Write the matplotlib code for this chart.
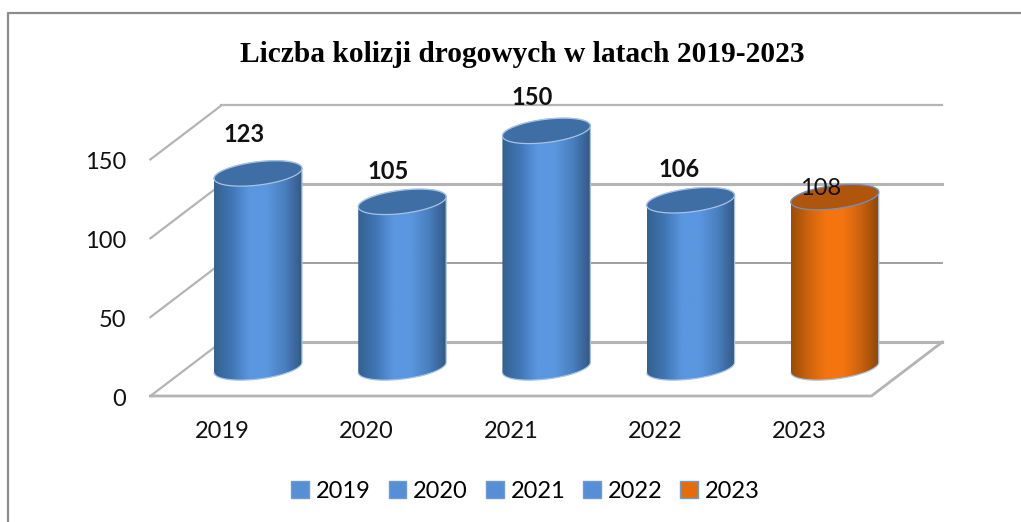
import numpy as np
import matplotlib
matplotlib.use("Agg")
import matplotlib.pyplot as plt
from matplotlib.colors import LinearSegmentedColormap
from matplotlib.patches import PathPatch, Rectangle
from matplotlib.path import Path

# data
years = ["2019", "2020", "2021", "2022", "2023"]
values = [123, 105, 150, 106, 108]
grid_ticks = [0, 50, 100, 150]
label_bold = [True, True, True, True, False]
label_shift = [(-10, 28), (-10, 22), (-10, 24), (-8, 22), (-10, 6)]
title = "Liczba kolizji drogowych w latach 2019-2023"

# picture scale
W, H = 1021, 522
PX_X = 144.2        # pixels per category
PX_Y = 1.577        # pixels per value unit
X0, Y0 = 222.5, 396   # pixels of category 0 / value 0 on the front edge
SKEW_X, SKEW_Y = 71 / PX_X, 54 / PX_Y   # shift front -> back wall
GREY = "#b4b4b4"
FONT = "Lato"

blue = LinearSegmentedColormap.from_list("b", ["#34618f", "#4076b5", "#5b96e0", "#5b96e0", "#4a80c0", "#335a88"])
orange = LinearSegmentedColormap.from_list("o", ["#9a4d08", "#cf640c", "#f47510", "#f47510", "#c9620e", "#8f4806"])

fig = plt.figure(figsize=(W / 100, H / 100), dpi=100)
ax = fig.add_axes([0, 0, 1, 1])
ax.set_xlim(-X0 / PX_X, (W - X0) / PX_X)
ax.set_ylim((Y0 - H) / PX_Y, Y0 / PX_Y)
ax.axis("off")

# outer border, only top and left are in the picture
fig.add_artist(plt.Line2D([7.5 / W, 7.5 / W, 1], [0, 1 - 12.5 / H, 1 - 12.5 / H], transform=fig.transFigure,
                          color="#8c8c8c", lw=1.6))

xl, xr = -0.5, len(years) - 0.5

# back wall gridlines and left wall
for v, lw in zip(grid_ticks, [2.2, 1.3, 2.2, 1.6]):
    ax.plot([xl + SKEW_X, xr + SKEW_X], [v + SKEW_Y, v + SKEW_Y], color=GREY if lw > 1.5 else "#989898", lw=lw, zorder=1)
    ax.plot([xl, xl + SKEW_X], [v, v + SKEW_Y], color=GREY, lw=1.6, zorder=1)
    ax.annotate(str(v), (xl, v), xytext=(-17.5, -2.5), textcoords="offset points", ha="right", va="center",
                fontsize=17, family=FONT, color="#111111")

# floor front edge
ax.plot([xl, xr, xr + SKEW_X], [0, 0, SKEW_Y], color=GREY, lw=2.0, zorder=1)


def ellipse(cx, cy, t):
    return cx + 0.305 * np.cos(t), cy + 3.2 * np.cos(t) + 7.4 * np.sin(t)


# cylinders, halfway in depth
for i, (yr, v) in enumerate(zip(years, values)):
    cx = i + SKEW_X / 2
    base = SKEW_Y / 2 + 1
    top = base + v
    cmap = orange if yr == "2023" else blue
    edge = "#a6c3e6"

    t_bot = np.linspace(np.pi, 2 * np.pi, 40)
    t_top = np.linspace(0, np.pi, 40)
    bx, by = ellipse(cx, base, t_bot)
    tx, ty = ellipse(cx, top, t_top)
    body = Path(np.column_stack([np.r_[bx, tx], np.r_[by, ty]]))
    grad = np.linspace(0, 1, 128).reshape(1, -1)
    im = ax.imshow(grad, cmap=cmap, extent=[cx - 0.305, cx + 0.305, base - 10, top + 10],
                   aspect="auto", zorder=3)
    patch = PathPatch(body, fc="none", ec=edge, lw=0.9, zorder=4)
    ax.add_patch(patch)
    im.set_clip_path(patch)

    ex, ey = ellipse(cx, top, np.linspace(0, 2 * np.pi, 80))
    ax.fill(ex, ey, fc="#b0560c" if yr == "2023" else "#3f6ea5",
            ec="#6d93c4" if yr == "2023" else edge, lw=0.9, zorder=5)

    dx, dy = label_shift[i]
    ax.annotate(str(v), (cx, top), xytext=(dx, dy), textcoords="offset points",
                ha="center", va="center", fontsize=17, family=FONT, zorder=6,
                fontweight="bold" if label_bold[i] else "normal", color="#111111")

    ax.text(i, -22.5, yr, ha="center", va="center", fontsize=17, family=FONT, color="#111111")

# title
fig.text(522 / W, 1 - 55 / H, title, ha="center", va="center", fontsize=21.2,
         family="Liberation Serif", fontweight="bold", color="black")

# legend
handles = [Rectangle((0, 0), 1, 1, fc="#e46c0a" if y == "2023" else "#568fd6", ec="#6f9bd4", lw=1) for y in years]
fig.legend(handles, years, loc="center", bbox_to_anchor=(525.5 / W, 1 - 491 / H), ncol=5, frameon=False,
           handlelength=0.75, handleheight=0.75, handletextpad=0.3, columnspacing=0.75,
           prop={"family": FONT, "size": 17})

fig.savefig("out.png", dpi=100)
